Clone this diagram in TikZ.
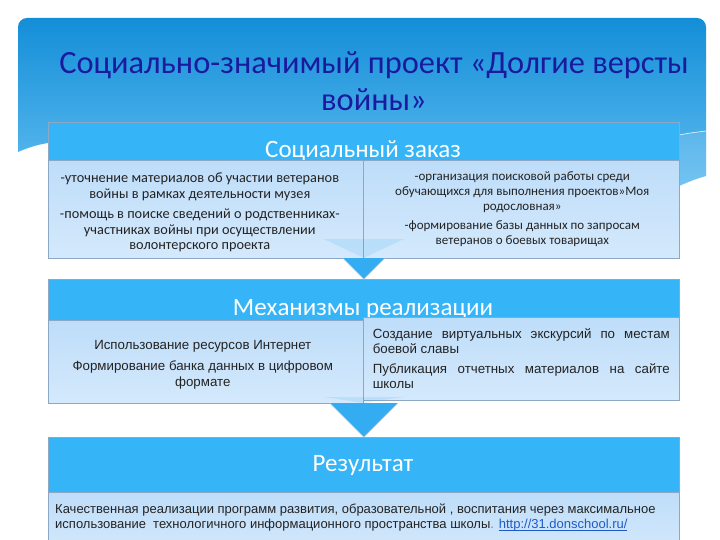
\documentclass[tikz,border=0pt]{standalone}
\usepackage{fontspec}
\setmainfont{Carlito}
\newfontfamily\arialf{Liberation Sans}
\usetikzlibrary{calc}
\definecolor{panelTop}{RGB}{20,142,216}
\definecolor{panelBot}{RGB}{95,188,240}
\definecolor{hdrBlue}{RGB}{54,180,248}
\definecolor{bodyTop}{RGB}{190,221,249}
\definecolor{bodyBot}{RGB}{212,233,252}
\definecolor{edgeGray}{RGB}{140,168,196}
\definecolor{arrowBlue}{RGB}{52,172,242}
\definecolor{titleBlue}{RGB}{26,26,158}
\definecolor{txtGray}{RGB}{35,35,35}
\definecolor{linkBlue}{RGB}{30,90,200}
\newlength\myullen
\newcommand\myul[1]{\settowidth\myullen{#1}\rlap{\rule[-1.6pt]{\myullen}{0.55pt}}#1}
\begin{document}
\begin{tikzpicture}[x=1pt,y=-1pt,
  hdr/.style={draw=edgeGray,line width=0.6pt,fill=hdrBlue,anchor=north west,inner sep=0pt},
  subbox/.style={draw=edgeGray,line width=0.6pt,top color=bodyTop,bottom color=bodyBot,anchor=north west,inner sep=0pt},
  htext/.style={text=white,anchor=base},
  smalltxt/.style={text=txtGray,font=\fontsize{14.3}{15.5}\selectfont,align=center},
  ariatxt/.style={text=txtGray,font=\arialf\fontsize{13.3}{15.5}\selectfont}]
\useasboundingbox (0,0) rectangle (720,540);
\fill[white] (0,0) rectangle (720,540);
% background title panel
\shade[top color=panelTop,bottom color=panelBot]
  [rounded corners=9pt] (18,152) -- (18,18) -- (706,18) [sharp corners] -- (706,176)
  .. controls (695,179) and (686,183) .. (679,186)
  .. controls (450,150) and (200,140) .. (48,143)
  .. controls (35,145) and (25,149) .. (18,152) -- cycle;
\draw[white,opacity=0.8,line width=0.7pt] (679,135) .. controls (690,133) .. (706,131);
\fill[white,opacity=0.12] (679,135) .. controls (690,133) .. (706,131) -- (706,176) .. controls (695,179) and (686,183) .. (679,186) -- cycle;
\node[text=titleBlue,font=\fontsize{32.4}{37}\selectfont,align=center] (title) at (374,81)
  {Социально-значимый проект «Долгие версты\\войны»};
% ---- box 1
\node[hdr,minimum width=631pt,minimum height=38pt] (h1) at (48,122) {};
\node[htext,font=\fontsize{25}{28}\selectfont] (t1) at (363,158) {Социальный заказ};
\node[subbox,minimum width=315pt,minimum height=98pt] (s1l) at (48,160) {};
\node[subbox,minimum width=316pt,minimum height=98pt] (s1r) at (363,160) {};
\node[smalltxt] (p1l) at ($(s1l.center)+(-6,3)$) {-уточнение материалов об участии ветеранов\\войны в рамках деятельности музея\\[5pt]-помощь в поиске сведений о родственниках-\\участниках войны при осуществлении\\волонтерского проекта};
\node[smalltxt,font=\fontsize{13}{15}\selectfont] (p1r) at ($(s1r.center)+(1,0)$) {-организация поисковой работы среди\\обучающихся для выполнения проектов»Моя\\родословная»\\[4pt]-формирование базы данных по запросам\\ветеранов о боевых товарищах};
% ---- box 2
\node[hdr,minimum width=631pt,minimum height=41pt] (h2) at (48,279) {};
\node[htext,font=\fontsize{25}{28}\selectfont] (t2) at (363,315) {Механизмы реализации};
\node[subbox,minimum width=315pt,minimum height=83pt] (s2l) at (48,320) {};
\node[subbox,minimum width=316pt,minimum height=83pt] (s2r) at (363,317) {};
\node[ariatxt,align=center] (p2l) at ($(s2l.center)+(-3,3)$) {Использование ресурсов Интернет\\[6pt]Формирование банка данных в цифровом\\формате};
\node[ariatxt,align=left] (p2r) at (s2r.center) {\makebox[297pt][s]{Создание виртуальных экскурсий по местам}\\боевой славы\\[4pt]\makebox[297pt][s]{Публикация отчетных материалов на сайте}\\школы};
% ---- box 3
\node[hdr,minimum width=631pt,minimum height=55pt] (h3) at (48,437) {};
\node[htext,font=\fontsize{25}{28}\selectfont] (t3) at (363,471) {Результат};
\node[subbox,minimum width=631pt,minimum height=60pt] (s3) at (48,492) {};
\node[ariatxt,align=left,anchor=north west,inner sep=0pt,font=\arialf\fontsize{13}{15}\selectfont] (p3) at (55,504)
  {Качественная реализации программ развития, образовательной , воспитания через максимальное\\
   использование\ \ технологичного информационного пространства школы{\color{gray}.} {\color{linkBlue}\myul{http://31.donschool.ru/}}};
% ---- chevrons
\fill[arrowBlue,opacity=0.15] ($(h2.north)+(-40,-40)$) -- ($(h2.north)+(40,-40)$) -- ($(h2.north)+(0,-21)$) -- cycle;
\fill[arrowBlue] ($(h2.north)+(-21,-21)$) -- (h2.north) -- ($(h2.north)+(21,-21)$) -- cycle;
\draw[edgeGray!70,line width=0.5pt] ($(h2.north)+(-21,-21)$) -- (h2.north) -- ($(h2.north)+(21,-21)$);
\fill[arrowBlue,opacity=0.15] ($(h3.north)+(-40,-40)$) -- ($(h3.north)+(40,-40)$) -- ($(h3.north)+(0,-34)$) -- cycle;
\fill[arrowBlue] ($(h3.north)+(-34,-34)$) -- (h3.north) -- ($(h3.north)+(34,-34)$) -- cycle;
\draw[edgeGray!70,line width=0.5pt] ($(h3.north)+(-34,-34)$) -- (h3.north) -- ($(h3.north)+(34,-34)$);
\end{tikzpicture}
\end{document}
